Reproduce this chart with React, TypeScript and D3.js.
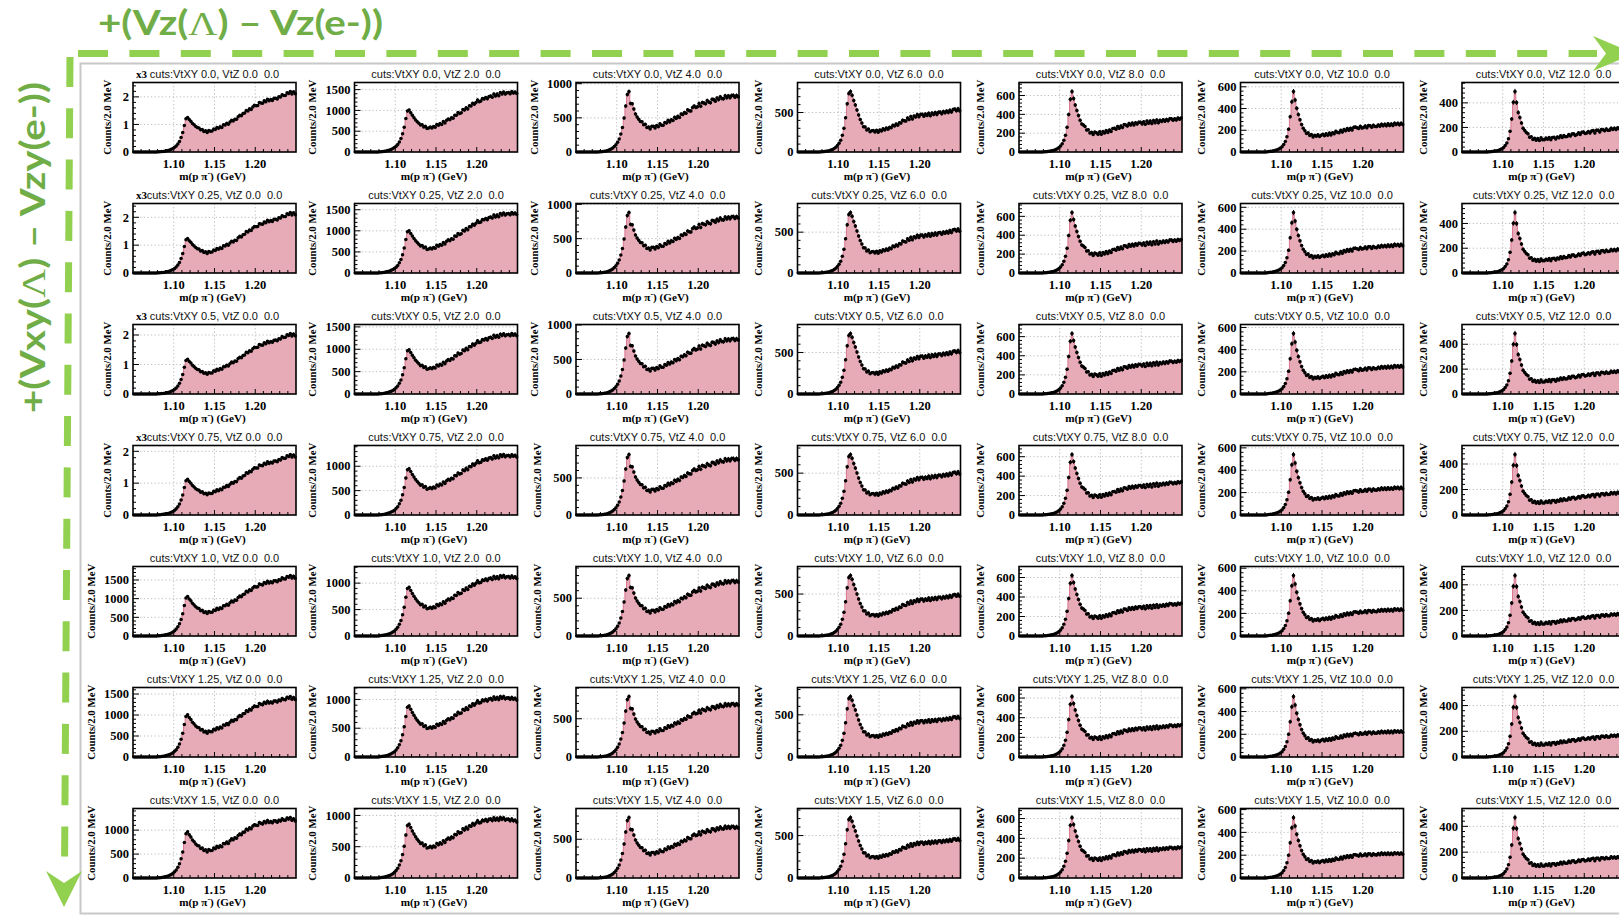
import React from 'react';
import * as d3 from 'd3';

// Cut values along the two directions of the grid
const vtxyCuts = ['0.0', '0.25', '0.5', '0.75', '1.0', '1.25', '1.5'];
const vtzCuts = ['0.0', '2.0', '4.0', '6.0', '8.0', '10.0', '12.0'];

// Mass axis: 2 MeV bins from 1.05 to 1.25 GeV
const massDomain: [number, number] = [1.05, 1.25];
const binWidth = 0.002;
const massTicks = [1.1, 1.15, 1.2];
const massMinorTicks = [1.06, 1.07, 1.08, 1.09, 1.11, 1.12, 1.13, 1.14, 1.16, 1.17, 1.18, 1.19, 1.21, 1.22, 1.23, 1.24];

// m(p pi-) spectra for VtXY 0.0, counts per bin, one per VtZ cut
const spectrumVtZ0 = [
  0, 0, 0, 0, 0, 0, 0, 0, 0, 0,
  0, 0, 0, 1, 3, 6, 10, 16, 22, 31,
  42, 56, 73, 96, 126, 168, 218, 292, 385, 525,
  705, 965, 1205, 1255, 1175, 1115, 1035, 985, 925, 885,
  872, 803, 815, 746, 768, 711, 779, 757, 761, 836,
  818, 891, 859, 916, 893, 987, 984, 1042, 1007, 1091,
  1153, 1127, 1192, 1184, 1279, 1332, 1311, 1393, 1411, 1507,
  1488, 1566, 1544, 1637, 1693, 1681, 1689, 1792, 1776, 1767,
  1856, 1824, 1913, 1856, 1902, 1872, 1949, 1953, 1927, 2004,
  1993, 2081, 2052, 2054, 2147, 2126, 2193, 2109, 2182, 2113,
];
const spectrumVtZ2 = [
  0, 0, 0, 0, 0, 0, 0, 0, 0, 0,
  0, 0, 0, 1, 2, 5, 8, 13, 19, 27,
  37, 49, 63, 82, 106, 140, 182, 243, 322, 440,
  598, 805, 985, 1010, 946, 884, 826, 772, 729, 690,
  647, 658, 604, 622, 564, 576, 599, 575, 612, 594,
  663, 642, 684, 663, 731, 698, 762, 796, 776, 823,
  812, 886, 884, 950, 926, 941, 1024, 1008, 1066, 1036,
  1112, 1108, 1171, 1147, 1193, 1253, 1211, 1224, 1284, 1277,
  1311, 1280, 1333, 1347, 1319, 1394, 1348, 1396, 1354, 1428,
  1395, 1441, 1393, 1422, 1430, 1401, 1453, 1416, 1443, 1407,
];
const spectrumVtZ4 = [
  0, 0, 0, 0, 0, 0, 0, 0, 0, 0,
  0, 0, 0, 1, 2, 4, 7, 11, 16, 23,
  32, 44, 60, 80, 106, 142, 190, 262, 358, 498,
  672, 842, 885, 712, 705, 628, 556, 512, 478, 446,
  443, 400, 408, 357, 367, 338, 376, 376, 352, 389,
  371, 415, 393, 392, 433, 423, 464, 441, 472, 461,
  508, 491, 522, 506, 557, 549, 579, 566, 617, 604,
  602, 653, 674, 653, 663, 711, 669, 725, 717, 707,
  753, 732, 723, 771, 767, 745, 790, 767, 808, 783,
  779, 824, 795, 822, 796, 827, 830, 803, 829, 809,
];
const spectrumVtZ6 = [
  0, 0, 0, 0, 0, 0, 0, 0, 0, 0,
  0, 0, 0, 1, 2, 3, 5, 8, 12, 17,
  24, 33, 45, 61, 82, 110, 150, 212, 300, 435,
  610, 742, 765, 718, 652, 596, 531, 468, 412, 366,
  320, 318, 280, 291, 256, 268, 273, 253, 274, 251,
  280, 266, 294, 280, 303, 288, 314, 306, 339, 330,
  354, 339, 371, 366, 403, 395, 391, 431, 411, 450,
  419, 455, 442, 474, 446, 475, 478, 452, 480, 463,
  492, 460, 494, 474, 500, 474, 503, 505, 484, 513,
  496, 519, 499, 529, 506, 538, 543, 522, 549, 521,
];
const spectrumVtZ8 = [
  0, 0, 0, 0, 0, 0, 0, 0, 0, 0,
  0, 0, 0, 0, 1, 2, 3, 5, 7, 10,
  14, 19, 26, 35, 47, 64, 88, 124, 178, 262,
  398, 560, 642, 568, 498, 442, 388, 336, 298, 286,
  272, 233, 236, 203, 210, 186, 212, 204, 189, 215,
  188, 217, 203, 228, 207, 234, 217, 249, 252, 242,
  272, 252, 277, 259, 291, 287, 275, 304, 286, 307,
  288, 312, 297, 317, 316, 298, 321, 294, 328, 306,
  330, 302, 335, 311, 341, 310, 336, 324, 342, 326,
  346, 332, 354, 352, 338, 352, 340, 360, 349, 360,
];
const spectrumVtZ10 = [
  0, 0, 0, 0, 0, 0, 0, 0, 0, 0,
  0, 0, 0, 0, 1, 1, 2, 4, 6, 8,
  11, 15, 20, 27, 36, 49, 68, 96, 140, 210,
  325, 462, 556, 478, 402, 346, 296, 252, 218, 196,
  170, 176, 152, 161, 138, 153, 145, 158, 142, 155,
  164, 150, 168, 155, 174, 157, 178, 167, 191, 179,
  177, 199, 183, 208, 196, 216, 200, 218, 203, 227,
  229, 224, 216, 236, 221, 225, 240, 223, 243, 242,
  227, 245, 235, 234, 249, 238, 255, 242, 255, 242,
  259, 244, 258, 244, 265, 253, 264, 250, 265, 252,
];
const spectrumVtZ12 = [
  0, 0, 0, 0, 0, 0, 0, 0, 0, 0,
  0, 0, 0, 0, 1, 1, 2, 3, 4, 6,
  8, 11, 15, 20, 27, 37, 52, 74, 108, 168,
  268, 405, 492, 402, 322, 281, 236, 194, 175, 158,
  148, 121, 124, 101, 112, 95, 109, 94, 115, 99,
  99, 113, 103, 118, 100, 119, 120, 106, 123, 115,
  133, 119, 135, 125, 126, 143, 131, 147, 148, 135,
  142, 156, 143, 160, 163, 150, 155, 167, 155, 170,
  175, 155, 177, 178, 163, 183, 182, 173, 187, 177,
  178, 194, 184, 194, 183, 198, 189, 202, 190, 204,
];
const spectra = [spectrumVtZ0, spectrumVtZ2, spectrumVtZ4, spectrumVtZ6, spectrumVtZ8, spectrumVtZ10, spectrumVtZ12];

// Lambda peak height and high-mass tail level per panel (rows: VtXY, columns: VtZ)
const peakCounts = [
  [1255, 1010, 885, 765, 642, 556, 492],
  [1240, 1000, 880, 740, 640, 552, 488],
  [1180, 990, 875, 728, 632, 545, 486],
  [1120, 950, 815, 722, 622, 540, 474],
  [1060, 920, 800, 720, 620, 535, 472],
  [1005, 885, 790, 716, 615, 532, 470],
  [965, 860, 780, 712, 610, 530, 468],
];
const tailCounts = [
  [2142, 1425, 818, 531, 349, 259, 194],
  [2120, 1405, 810, 522, 345, 256, 190],
  [2000, 1320, 790, 508, 340, 250, 182],
  [1850, 1205, 752, 500, 332, 242, 174],
  [1565, 1100, 722, 482, 326, 234, 170],
  [1385, 1000, 684, 464, 318, 224, 167],
  [1205, 905, 652, 450, 302, 214, 160],
];

const SANS = "'Liberation Sans', Arial, Helvetica, sans-serif";
const SERIF = "'Liberation Serif', 'Times New Roman', serif";
const SLIDE_FONT = "Lato, 'Open Sans', sans-serif";

const FRAME_LEFT = 133;
const COL_STEP = 221.5;
const FRAME_TOP = 82.5;
const ROW_STEP = 121;
const FRAME_W = 163;
const FRAME_H = 69.5;

const FILL = '#e7aab7';
const OUTLINE = '#d66b86';
const GREEN_TEXT = '#70AD47';
const GREEN_DASH = '#92D050';

// Rescale a column spectrum to a panel's peak height and tail level
function panelCounts(r: number, c: number): number[] {
  const base = spectra[c];
  const ks = peakCounts[r][c] / peakCounts[0][c];
  const kt = tailCounts[r][c] / tailCounts[0][c];
  return base.map((v, i) => {
    const m = massDomain[0] + binWidth * (i + 0.5);
    const w = Math.min(1, Math.max(0, (m - 1.14) / (massDomain[1] - 1.14)));
    return v * (ks + (kt - ks) * w);
  });
}

function niceStep(top: number): number {
  const p = Math.pow(10, Math.floor(Math.log10(top)) - 1);
  for (const m of [1, 2, 5, 10, 20, 50, 100, 200]) {
    if (top / (m * p) <= 4) return m * p;
  }
  return top;
}

function Panel({ r, c }: { r: number; c: number }) {
  const left = FRAME_LEFT + c * COL_STEP;
  const top = FRAME_TOP + r * ROW_STEP;
  const right = left + FRAME_W;
  const bottom = top + FRAME_H;
  const counts = panelCounts(r, c);
  const yTop = 1.15 * (d3.max(counts) ?? 1);

  const x = d3.scaleLinear().domain(massDomain).range([left, right]);
  const y = d3.scaleLinear().domain([0, yTop]).range([bottom, top]);

  const step = niceStep(yTop);
  const kilo = step >= 1000;
  const major = d3.range(0, yTop, step);
  const minor = d3
    .range(step / 5, yTop, step / 5)
    .filter((v) => Math.abs(v / step - Math.round(v / step)) > 1e-6);
  const labels = major.map((v) => (kilo ? String(Math.round(v / 1000)) : String(Math.round(v))));
  const maxChars = d3.max(labels, (s) => s.length) ?? 1;
  const titleX = left - (maxChars <= 1 ? 22.5 : maxChars === 2 ? 29 : maxChars === 3 ? 35.5 : 38.5);

  const stepPts: [number, number][] = counts.map((v, i) => [massDomain[0] + binWidth * i, v]);
  stepPts.push([massDomain[0] + binWidth * counts.length, counts[counts.length - 1]]);
  const area = d3
    .area<[number, number]>()
    .x((d) => x(d[0]))
    .y0(bottom)
    .y1((d) => y(d[1]))
    .curve(d3.curveStepAfter);
  const line = d3
    .line<[number, number]>()
    .x((d) => x(d[0]))
    .y((d) => y(d[1]))
    .curve(d3.curveStepAfter);

  const cx = (i: number) => x(massDomain[0] + binWidth * (i + 0.5));

  return (
    <g>
      {/* dotted grid */}
      {massTicks.map((t) => (
        <line key={'gx' + t} x1={x(t)} x2={x(t)} y1={top} y2={bottom} stroke="#aaa" strokeWidth={0.8} strokeDasharray="1.2 2.4" />
      ))}
      {major
        .filter((v) => v > 0)
        .map((v) => (
          <line key={'gy' + v} x1={left} x2={right} y1={y(v)} y2={y(v)} stroke="#aaa" strokeWidth={0.8} strokeDasharray="1.2 2.4" />
        ))}
      {/* histogram */}
      <path d={area(stepPts) ?? ''} fill={FILL} stroke="none" />
      <path d={line(stepPts) ?? ''} fill="none" stroke={OUTLINE} strokeWidth={0.9} />
      {/* data points with statistical errors */}
      {counts.map((v, i) => {
        const e = Math.sqrt(v);
        return (
          <g key={'p' + i}>
            {e > 0 && <line x1={cx(i)} x2={cx(i)} y1={y(v - e)} y2={y(v + e)} stroke="#000" strokeWidth={1} />}
            <circle cx={cx(i)} cy={y(v)} r={1.75} fill="#000" />
          </g>
        );
      })}
      {/* frame and ticks */}
      <rect x={left} y={top} width={FRAME_W} height={FRAME_H} fill="none" stroke="#000" strokeWidth={1.6} />
      {major.map((v) => (
        <line key={'ty' + v} x1={left} x2={left + 6} y1={y(v)} y2={y(v)} stroke="#000" strokeWidth={1} />
      ))}
      {minor.map((v) => (
        <line key={'tmy' + v} x1={left} x2={left + 3} y1={y(v)} y2={y(v)} stroke="#000" strokeWidth={1} />
      ))}
      {massTicks.map((t) => (
        <line key={'tx' + t} x1={x(t)} x2={x(t)} y1={bottom} y2={bottom - 5} stroke="#000" strokeWidth={1} />
      ))}
      {massMinorTicks.map((t) => (
        <line key={'tmx' + t} x1={x(t)} x2={x(t)} y1={bottom} y2={bottom - 3} stroke="#000" strokeWidth={1} />
      ))}
      {/* tick labels */}
      {major.map((v, k) => (
        <text key={'ly' + v} x={left - 4} y={y(v) + 4.2} textAnchor="end" fontFamily={SERIF} fontWeight={700} fontSize={12.5} fill="#000">
          {labels[k]}
        </text>
      ))}
      {massTicks.map((t) => (
        <text key={'lx' + t} x={x(t)} y={bottom + 16} textAnchor="middle" fontFamily={SERIF} fontWeight={700} fontSize={12.5} fill="#000">
          {d3.format('.2f')(t)}
        </text>
      ))}
      {/* axis titles */}
      <text
        transform={`translate(${titleX},${(top + bottom) / 2}) rotate(-90)`}
        textAnchor="middle"
        fontFamily={SERIF}
        fontWeight={700}
        fontSize={10.8}
        fill="#000"
      >
        Counts/2.0 MeV
      </text>
      <text x={(left + right) / 2 - 2} y={bottom + 28} textAnchor="middle" fontFamily={SERIF} fontWeight={700} fontSize={11.2} fill="#000">
        m(p π<tspan dy={-4.5} fontSize={8}>-</tspan>
        <tspan dy={4.5}>) (GeV)</tspan>
      </text>
      {/* panel title */}
      <text x={(left + right) / 2} y={top - 5} textAnchor="middle" fontFamily={SANS} fontSize={11} fill="#111" style={{ whiteSpace: 'pre' }}>
        {`cuts:VtXY ${vtxyCuts[r]}, VtZ ${vtzCuts[c]}  0.0`}
      </text>
      {kilo && (
        <text x={left + 3} y={top - 5} fontFamily={SERIF} fontWeight={700} fontSize={11} fill="#000">
          x3
        </text>
      )}
    </g>
  );
}

export default function App() {
  return (
    <div style={{ position: 'absolute', left: 0, top: 0 }}>
      <svg width={1619} height={916} style={{ display: 'block', background: '#fff' }}>
        <rect width={1619} height={916} fill="#fff" />
        {/* picture frame of the embedded canvas */}
        <rect x={80.5} y={63.5} width={1580} height={850} fill="#fff" stroke="#c8c8c8" strokeWidth={2} />
        {vtxyCuts.map((_, r) => vtzCuts.map((__, c) => <Panel key={`${r}-${c}`} r={r} c={c} />))}

        {/* direction of the VtZ cut */}
        <text x={98} y={35} fill={GREEN_TEXT} fontFamily={SLIDE_FONT} fontWeight={700} fontSize={34} textLength={285} lengthAdjust="spacingAndGlyphs">
          +(Vz(<tspan fontFamily={SERIF} fontWeight={400}>Λ</tspan>) – Vz(e-))
        </text>
        <line x1={78} y1={53.5} x2={1597} y2={53.5} stroke={GREEN_DASH} strokeWidth={7} strokeDasharray="30 21.4" />
        <polygon points="1593,36 1634,53.5 1593,71 1606,53.5" fill={GREEN_DASH} />

        {/* direction of the VtXY cut */}
        <text
          transform="translate(45,413) rotate(-90)"
          fill={GREEN_TEXT}
          fontFamily={SLIDE_FONT}
          fontWeight={700}
          fontSize={34}
          textLength={331}
          lengthAdjust="spacingAndGlyphs"
        >
          +(Vxy(<tspan fontFamily={SERIF} fontWeight={400}>Λ</tspan>) – Vzy(e-))
        </text>
        <line x1={70} y1={57} x2={64.5} y2={872} stroke={GREEN_DASH} strokeWidth={7} strokeDasharray="30 21.3" />
        <polygon points="46,871 64,883 82,871 64,907" fill={GREEN_DASH} />
      </svg>
    </div>
  );
}
